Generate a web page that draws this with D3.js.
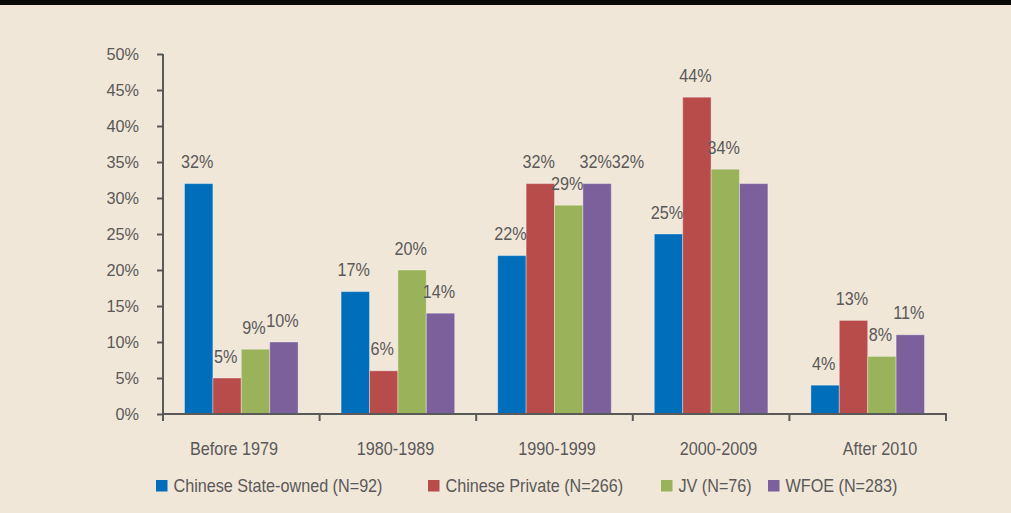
<!DOCTYPE html>
<html>
<head>
<meta charset="utf-8">
<script src="https://cdn.jsdelivr.net/npm/d3@7"></script>
<style>
  html, body { margin: 0; padding: 0; background: #F1E7D8; }
  svg { display: block; }
  text { font-family: 'Liberation Sans', Arial, sans-serif; fill: #595959; }
</style>
</head>
<body>
<svg id="chart" width="1011" height="513"></svg>
<script>
// ---- data ----
const categories = ["Before 1979", "1980-1989", "1990-1999", "2000-2009", "After 2010"];
const seriesNames = ["Chinese State-owned (N=92)", "Chinese Private (N=266)", "JV (N=76)", "WFOE (N=283)"];
const stateOwned = [32, 17, 22, 25, 4];
const privateCo = [5, 6, 32, 44, 13];
const jv = [9, 20, 29, 34, 8];
const wfoe = [10, 14, 32, 32, 11];
const yTicks = [0, 5, 10, 15, 20, 25, 30, 35, 40, 45, 50];

// ---- style / layout ----
const colors = ["#006EBA", "#B84C4A", "#9AB35A", "#7B609B"];
const W = 1011, H = 513;
const plot = { left: 163, right: 946, top: 54, bottom: 414 };
const FS = 18.6;       // main font size
const SX = 0.87;       // horizontal condensing to mimic a condensed face

const seriesValues = [stateOwned, privateCo, jv, wfoe];
const rows = categories.map((c, i) => ({
  cat: c,
  vals: seriesValues.map((s, k) => ({ key: k, cat: c, v: s[i] }))
}));

const svg = d3.select("#chart");
svg.append("rect").attr("width", W).attr("height", H).attr("fill", "#F1E7D8");
svg.append("rect").attr("width", W).attr("height", 5).attr("fill", "#0a0a0a");

const x0 = d3.scaleBand().domain(categories).range([plot.left, plot.right]).padding(0);
const x1 = d3.scaleBand().domain(d3.range(4)).range([0, x0.bandwidth()]).paddingInner(0).paddingOuter(0.757);
const y = d3.scaleLinear().domain([0, 50]).range([plot.bottom, plot.top]);
const xLabel = d3.scalePoint().domain(categories).range([234, 880]);

function condensed(sel, x, y) {
  return sel.attr("transform", `translate(${x},${y}) scale(${SX},1)`);
}

// bars
const g = svg.append("g");
const groups = g.selectAll("g.grp").data(rows).join("g")
  .attr("transform", d => `translate(${x0(d.cat)},0)`);
groups.selectAll("rect").data(d => d.vals).join("rect")
  .attr("x", d => x1(d.key))
  .attr("y", d => y(d.v))
  .attr("width", x1.bandwidth())
  .attr("height", d => y(0) - y(d.v))
  .attr("fill", d => colors[d.key])
  .attr("stroke", "rgba(255,255,255,0.35)")
  .attr("stroke-width", 1);

// y axis
const yAxis = d3.axisLeft(y).tickValues(yTicks).tickFormat(d => d + "%").tickSize(6).tickPadding(18);
const yg = svg.append("g").attr("transform", `translate(${plot.left},0)`).call(yAxis);
yg.select(".domain").attr("stroke", "#595959").attr("stroke-width", 2).attr("d", `M0,${plot.top}V${plot.bottom}`);
yg.selectAll(".tick line").attr("stroke", "#595959").attr("stroke-width", 2);
yg.selectAll(".tick text").attr("font-size", 16.3).attr("fill", "#595959")
  .style("font-family", "'Liberation Sans', Arial, sans-serif");

// x axis line + boundary ticks
const boundaries = categories.map(c => x0(c)).concat([x0.range()[1]]);
const xg = svg.append("g");
xg.append("line").attr("x1", plot.left - 1).attr("x2", plot.right + 1)
  .attr("y1", plot.bottom).attr("y2", plot.bottom)
  .attr("stroke", "#595959").attr("stroke-width", 2);
xg.selectAll("line.bt").data(boundaries).join("line").attr("class", "bt")
  .attr("x1", d => d).attr("x2", d => d)
  .attr("y1", plot.bottom).attr("y2", plot.bottom + 7)
  .attr("stroke", "#595959").attr("stroke-width", 2);

// category labels
svg.append("g").selectAll("text").data(categories).join("text")
  .attr("text-anchor", "middle").attr("font-size", FS)
  .each(function (d) { condensed(d3.select(this), xLabel(d), 455); })
  .text(d => d);

// data labels
const labels = svg.append("g");
const all = rows.flatMap(r => r.vals);
const labelNodes = {};
all.forEach(d => {
  const lx = x0(d.cat) + x1(d.key) + x1.bandwidth() / 2 - 1.5;
  const ly = y(d.v) - 15.5;
  const t = labels.append("text")
    .attr("text-anchor", "middle").attr("font-size", FS)
    .text(d.v + "%");
  condensed(t, lx, ly);
  labelNodes[d.cat + "|" + d.key] = { t, lx, ly };
});
// Reference quirk: the 2000-2009 WFOE label sits right after the 1990-1999 WFOE label
(function () {
  const moved = labelNodes["2000-2009|3"];
  const anchor = labelNodes["1990-1999|3"];
  const bb = anchor.t.node().getBBox();
  moved.t.attr("text-anchor", "start");
  condensed(moved.t, anchor.lx + (bb.x + bb.width) * SX, anchor.ly);
})();

// legend
const legendX = [156, 428, 661, 768];
const lg = svg.append("g");
seriesNames.forEach((name, k) => {
  lg.append("rect").attr("x", legendX[k]).attr("y", 480).attr("width", 11.5).attr("height", 11.5).attr("fill", colors[k]);
  const t = lg.append("text").attr("font-size", FS).text(name);
  condensed(t, legendX[k] + 17.5, 492);
});
</script>
</body>
</html>
